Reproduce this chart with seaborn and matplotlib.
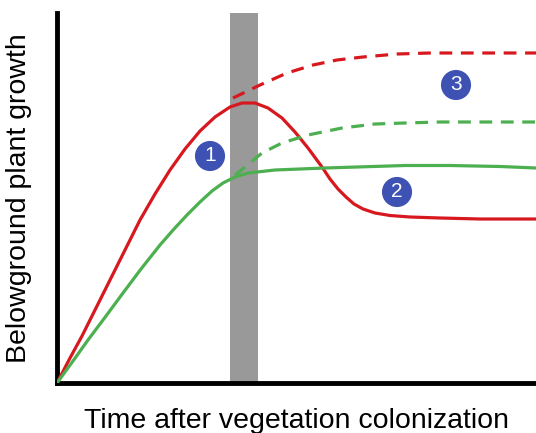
import seaborn as sns
import matplotlib.pyplot as plt

# curves (x: time, y: growth, arbitrary units)
red_x = [0, 13, 25, 39, 53, 68, 83, 98, 113, 128, 143, 158, 173, 185, 198, 211,
         225, 238, 251, 265, 273, 281, 289, 297, 306, 318, 333, 353, 383, 423, 479]
red_y = [0, 25, 47, 75, 103, 133, 163, 189, 213, 234, 252, 266, 276, 280, 280, 275,
         265, 251, 235, 216, 204, 194, 186, 179, 174, 170, 167.5, 166, 165, 164, 164]

green_x = [0, 16, 31, 49, 66, 84, 103, 117, 130, 143, 155, 166, 178, 191, 218, 268,
           348, 393, 443, 479]
green_y = [0, 22, 43, 67, 90, 114, 138, 154, 168, 181, 192, 200, 206, 210, 213, 215,
           217.5, 217.5, 216.5, 215]

red_dash_x = [176, 203, 230, 256, 280, 306, 340, 373, 479]
red_dash_y = [285, 298, 310, 318, 323, 326, 329, 330, 330]

green_dash_x = [178, 188, 205, 225, 251, 285, 318, 348, 383, 479]
green_dash_y = [208, 216, 230, 240, 248, 255, 259, 260, 261, 261]

band = (173, 201)

marker_x = [153, 340, 399]
marker_y = [227, 191, 298]
marker_labels = ["1", "2", "3"]

RED = "#d7191f"
GREEN = "#4caf50"
BLUE = "#3e52b4"

sns.set_style("white")
plt.rcParams["font.family"] = ["Liberation Sans", "DejaVu Sans"]

fig = plt.figure(figsize=(5.36, 4.33), dpi=100)
ax = fig.add_axes([57 / 536, 50 / 433, 479 / 536, 370 / 433])

ax.axvspan(*band, color="#999999", lw=0, zorder=1)

line_kw = dict(lw=2.3, ax=ax, zorder=3, sort=False)
sns.lineplot(x=red_x, y=red_y, color=RED, **line_kw)
sns.lineplot(x=green_x, y=green_y, color=GREEN, **line_kw)
sns.lineplot(x=red_dash_x, y=red_dash_y, color=RED, linestyle=(0, (4, 2.7)),
             **line_kw)
sns.lineplot(x=green_dash_x, y=green_dash_y, color=GREEN, linestyle=(0, (4, 2.7)),
             **line_kw)
for ln in ax.lines:
    ln.set_solid_joinstyle("round")
    ln.set_solid_capstyle("round")

sns.scatterplot(x=marker_x, y=marker_y, s=470, color=BLUE, edgecolor="none",
                ax=ax, zorder=4)
for mx, my, lab in zip(marker_x, marker_y, marker_labels):
    ax.text(mx, my, lab, color="white", fontsize=15, ha="center", va="center",
            zorder=5)

ax.set_xlim(0, 479)
ax.set_ylim(0, 370)
ax.set_xticks([])
ax.set_yticks([])
for side in ["top", "right"]:
    ax.spines[side].set_visible(False)
for side in ["left", "bottom"]:
    ax.spines[side].set_linewidth(3.5)
    ax.spines[side].set_color("black")
    ax.spines[side].set_capstyle("projecting")

fig.text(296.5 / 536, 1 - 428 / 433, "Time after vegetation colonization",
         fontsize=20.5, color="black", ha="center", va="baseline")
fig.text(19 / 536, 1 - 198 / 433, "Belowground plant growth",
         fontsize=20.5, color="black", rotation=90, ha="center", va="center")

fig.savefig("out.png", dpi=100)
